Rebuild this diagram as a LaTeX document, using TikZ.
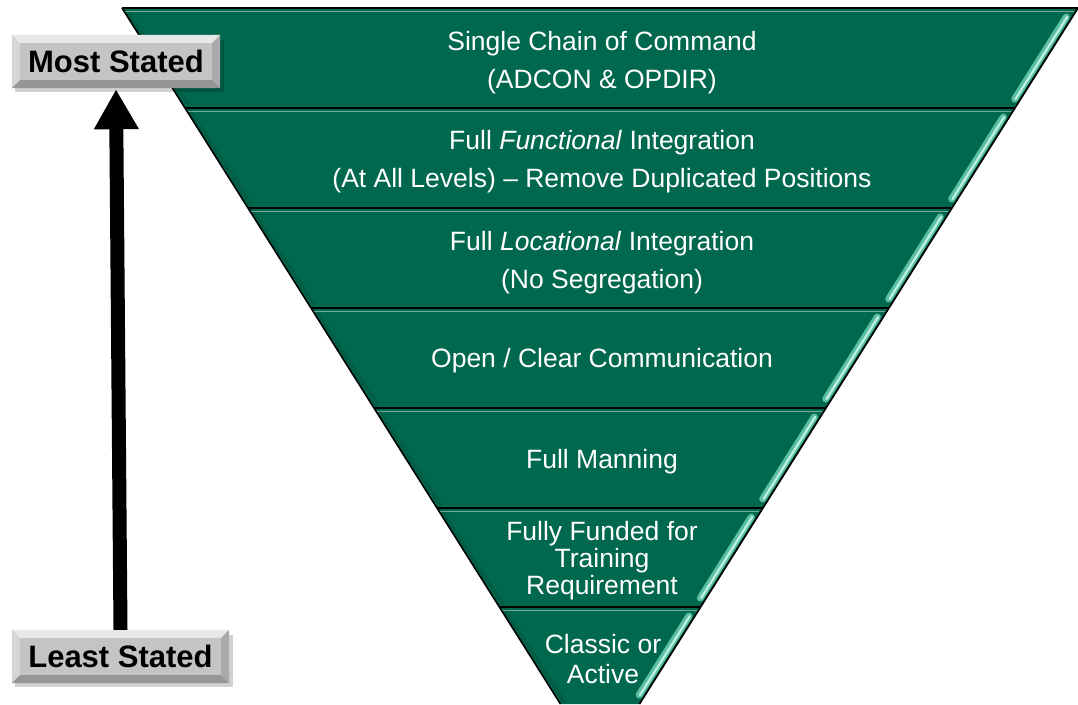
\documentclass[tikz,border=0pt]{standalone}
\usepackage{fontspec}
\setmainfont{Liberation Sans}
\usetikzlibrary{calc,arrows.meta}
\definecolor{bandgreen}{RGB}{0,104,78}
\definecolor{bandshade}{RGB}{0,80,60}
\definecolor{glossout}{RGB}{90,190,160}
\definecolor{glossin}{RGB}{190,240,225}
\definecolor{btnface}{RGB}{196,196,196}
\definecolor{btntop}{RGB}{232,232,232}
\definecolor{btnleft}{RGB}{214,214,214}
\definecolor{btnright}{RGB}{170,170,170}
\definecolor{btnbottom}{RGB}{150,150,150}
\tikzset{
  bandtext/.style={text=white, align=center, inner sep=0pt, font=\fontsize{26.5}{38}\selectfont},
  btn/.style={fill=btnface, minimum width=#1, minimum height=53pt, inner sep=0pt},
  btnlabel/.style={font=\fontsize{31}{36}\selectfont\bfseries, text=black, inner sep=0pt},
  sep/.style={black, line width=2pt},
  edge/.style={black, line width=1.6pt},
  gloss/.style={glossout, line width=7pt, line cap=round},
  glosshi/.style={glossin, line width=2.2pt, line cap=round},
  bigarrow/.style={black, line width=14pt, -{Triangle[width=42pt,length=40pt]}, shorten >=1pt}
}
\newcommand{\bevelit}[1]{%
  \fill[btntop] (#1.north west) -- (#1.north east) -- ($(#1.north east)+(-8,8)$) -- ($(#1.north west)+(8,8)$) -- cycle;
  \fill[btnleft] (#1.north west) -- ($(#1.north west)+(8,8)$) -- ($(#1.south west)+(8,-8)$) -- (#1.south west) -- cycle;
  \fill[btnright] (#1.north east) -- ($(#1.north east)+(-8,8)$) -- ($(#1.south east)+(-8,-8)$) -- (#1.south east) -- cycle;
  \fill[btnbottom] (#1.south west) -- ($(#1.south west)+(8,-8)$) -- ($(#1.south east)+(-8,-8)$) -- (#1.south east) -- cycle;
}
\begin{document}
\begin{tikzpicture}[x=1pt,y=-1pt]
\useasboundingbox (0,0) rectangle (1078,704);
\fill[white] (0,0) rectangle (1078,704);
% bands
\foreach \t/\b in {8/108,108/208,208/308,308/408,408/508,508/607,607/704}{
  \pgfmathsetmacro\ht{478-0.63*(\t-8)}
  \pgfmathsetmacro\hb{478-0.63*(\b-8)}
  \fill[bandgreen] (600-\ht,\t) -- (600+\ht,\t) -- (600+\hb,\b) -- (600-\hb,\b) -- cycle;
  % soft inner shade at left edge
  \draw[bandshade, line width=4pt, opacity=0.4] (600-\ht+4,\t+2) -- (600-\hb+4,\b-2);
  % top highlight
  \draw[white, opacity=0.45, line width=1.5pt] (600-\ht+2,\t+3.5) -- (600+\ht-4,\t+3.5);
  % gloss strip along right edge
  \pgfmathsetmacro\gy{\t+9}
  \pgfmathsetmacro\gz{min(\b-9,704)}
  \pgfmathsetmacro\gxa{600+478-0.63*(\gy-8)-6}
  \pgfmathsetmacro\gxb{600+478-0.63*(\gz-8)-6}
  \draw[gloss] (\gxa,\gy) -- (\gxb,\gz);
  \draw[glosshi] (\gxa+0.8,\gy) -- (\gxb+0.8,\gz);
}
% separators
\foreach \t in {8,108,208,308,408,508,607}{
  \pgfmathsetmacro\ht{478-0.63*(\t-8)}
  \draw[sep] (600-\ht,\t) -- (600+\ht,\t);
}
% outer edges
\draw[edge] (122,8) -- ({600-478+0.63*696},704);
\draw[edge] (1078,8) -- ({600+478-0.63*696},704);
% texts
\node[bandtext] (t1) at (602,63) {Single Chain of Command\\(ADCON \& OPDIR)};
\node[bandtext] (t2) at (602,162) {Full \textit{Functional} Integration\\(At All Levels) – Remove Duplicated Positions};
\node[bandtext] (t3) at (602,262.5) {Full \textit{Locational} Integration\\(No Segregation)};
\node[bandtext] (t4) at (602,361) {Open / Clear Communication};
\node[bandtext] (t5) at (602,462) {Full Manning};
\node[bandtext, font=\fontsize{26.5}{27}\selectfont] (t6) at (602,561) {Fully Funded for\\Training\\Requirement};
\node[bandtext, font=\fontsize{26.5}{30}\selectfont] (t7) at (603,659) {Classic or\\Active};
% buttons
\fill[black, opacity=0.18] (15,40) rectangle (224,92);
\fill[black, opacity=0.18] (15,635) rectangle (233,687);
\node[btn=208pt] (most) at (116,61.5) {};
\bevelit{most}
\node[btnlabel] (mostlbl) at (most.center) {Most Stated};
\node[btn=217pt] (least) at (120.5,656.5) {};
\bevelit{least}
\node[btnlabel] (leastlbl) at (least.center) {Least Stated};
% arrow
\draw[bigarrow] (least.north) -- (most.south);
\end{tikzpicture}
\end{document}
